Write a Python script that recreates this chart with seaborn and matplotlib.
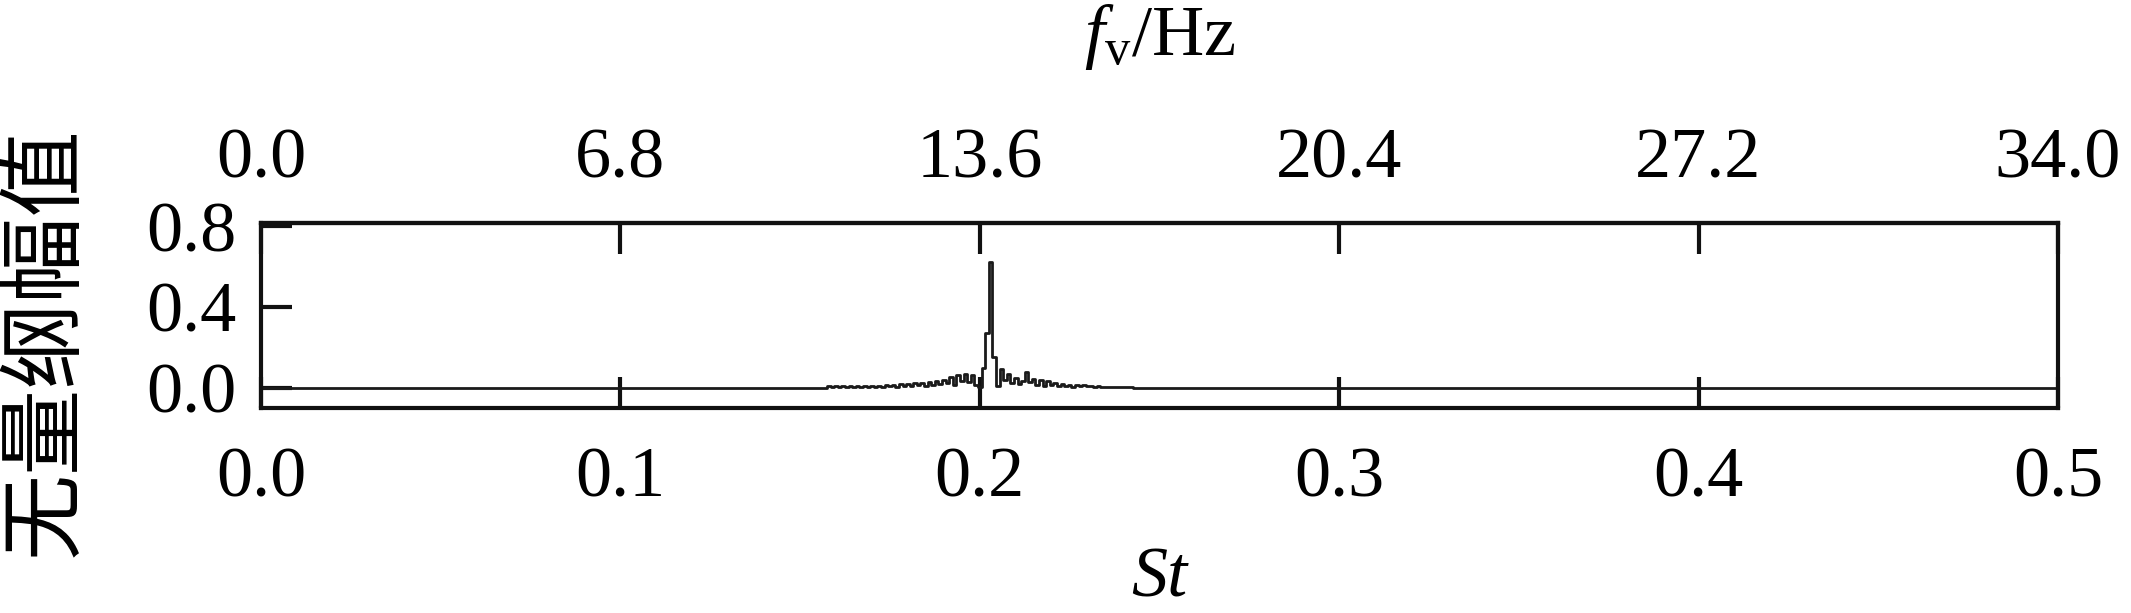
import numpy as np
import matplotlib
matplotlib.use("Agg")
import matplotlib.pyplot as plt
from matplotlib.ticker import FormatStrFormatter
import seaborn as sns
import pandas as pd

# ---- data ----
st_noise_start = 0.156
st_noise_step = 0.001
amp_noise = [
    0.000, 0.000, 0.008, 0.004, 0.009, 0.003, 0.008, 0.004, 0.009, 0.003,
    0.008, 0.005, 0.010, 0.004, 0.008, 0.006, 0.011, 0.004, 0.014, 0.007,
    0.016, 0.006, 0.018, 0.008, 0.020, 0.009, 0.024, 0.012, 0.022, 0.010,
    0.028, 0.014, 0.032, 0.018, 0.040, 0.022, 0.055, 0.015, 0.062, 0.035,
    0.070, 0.028, 0.065, 0.012, 0.005, 0.100, 0.270, 0.620, 0.150, 0.010,
    0.095, 0.040, 0.070, 0.025, 0.050, 0.020, 0.035, 0.080, 0.030, 0.045,
    0.015, 0.040, 0.010, 0.035, 0.012, 0.025, 0.008, 0.020, 0.010, 0.012,
    0.006, 0.014, 0.008, 0.012, 0.010, 0.008, 0.003, 0.010, 0.002, 0.006,
    0.002, 0.003, 0.003, 0.003, 0.002, 0.006, 0.002, 0.000, 0.000,
]
st_noise = np.round(st_noise_start + st_noise_step * np.arange(len(amp_noise)), 4)
st_values = np.concatenate([[0.0], st_noise, [0.5]])
amp_values = np.concatenate([[0.0], amp_noise, [0.0]])

st_ticks = [0.0, 0.1, 0.2, 0.3, 0.4, 0.5]
freq_ticks = [0.0, 6.8, 13.6, 20.4, 27.2, 34.0]
amp_ticks = [0.0, 0.4, 0.8]
hz_per_st = 68.0

df = pd.DataFrame({"St": st_values, "amp": amp_values})

# ---- style ----
sns.set_theme(style="ticks")
plt.rcParams["font.family"] = ["Liberation Serif", "Noto Sans CJK SC", "DejaVu Sans"]
plt.rcParams["mathtext.fontset"] = "custom"
plt.rcParams["mathtext.rm"] = "Liberation Serif"
plt.rcParams["mathtext.it"] = "Liberation Serif:italic"
for k in ["text.color", "axes.labelcolor", "xtick.color", "ytick.color", "axes.edgecolor"]:
    plt.rcParams[k] = "black"

fig = plt.figure(figsize=(21.31, 6.13), dpi=100)
ax = fig.add_axes([0.1225, 0.3344, 0.8432, 0.3018])

sns.lineplot(data=df, x="St", y="amp", ax=ax, color="#1a1a1a", lw=2.0,
             estimator=None, drawstyle="steps-mid")

ax.set_xlim(0, 0.5)
ax.set_ylim(-0.1, 0.815)
ax.set_xticks(st_ticks)
ax.set_yticks(amp_ticks)
ax.xaxis.set_major_formatter(FormatStrFormatter("%.1f"))
ax.yaxis.set_major_formatter(FormatStrFormatter("%.1f"))

fs = 52
for s in ax.spines.values():
    s.set_linewidth(3.0)
    s.set_color("#111111")
ax.tick_params(axis="x", direction="in", length=22, width=3.0, color="#111111",
               labelsize=fs, pad=28, top=False, bottom=True)
ax.tick_params(axis="y", direction="in", length=22, width=3.0, color="#111111",
               labelsize=fs, pad=18, left=True, right=False)

ax.set_xlabel("St", fontsize=fs, style="italic", labelpad=25)
ax.set_ylabel("无量纲幅值", fontsize=62, family=["Noto Sans CJK SC", "DejaVu Sans"])
ax.yaxis.set_label_coords(-0.0955, 0.36)

sec = ax.secondary_xaxis("top", functions=(lambda s: s * hz_per_st,
                                          lambda f: f / hz_per_st))
sec.set_xticks(freq_ticks)
sec.xaxis.set_major_formatter(FormatStrFormatter("%.1f"))
sec.tick_params(axis="x", direction="in", length=22, width=3.0, color="#111111",
                labelsize=fs, pad=22)
sec.spines["top"].set_linewidth(3.0)
sec.set_xlabel(r"$f_{\mathrm{v}}$/Hz", fontsize=fs, labelpad=52)

fig.savefig("out.png", dpi=100, facecolor="white")
